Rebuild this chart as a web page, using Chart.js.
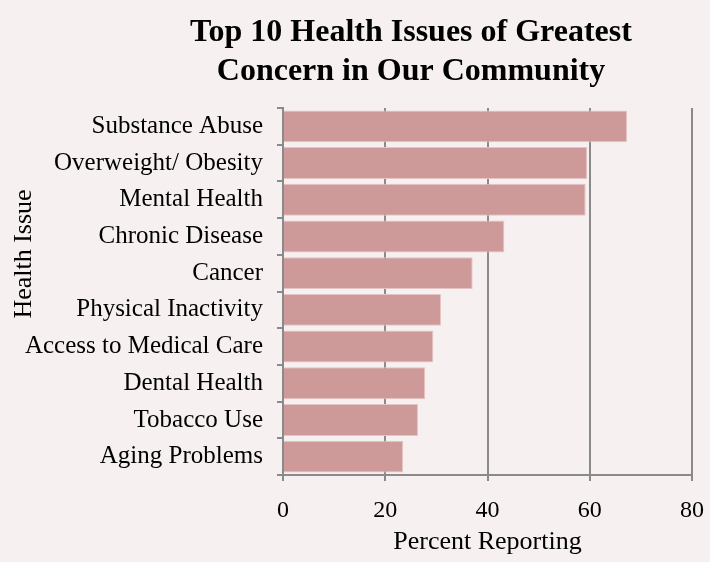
<!DOCTYPE html>
<html>
<head>
<meta charset="utf-8">
<script src="https://cdn.jsdelivr.net/npm/chart.js@4/dist/chart.umd.min.js"></script>
<style>
  html, body { margin: 0; padding: 0; background: #f6f0f0; }
  #wrap { width: 710px; height: 562px; position: relative; }
</style>
</head>
<body>
<div id="wrap"><canvas id="c"></canvas></div>
<script>
// top 10 health issues, percent reporting
var issues = ['Substance Abuse', 'Overweight/ Obesity', 'Mental Health', 'Chronic Disease', 'Cancer',
  'Physical Inactivity', 'Access to Medical Care', 'Dental Health', 'Tobacco Use', 'Aging Problems'];
var percents = [67.3, 59.5, 59.2, 43.3, 37.1, 30.9, 29.4, 27.8, 26.4, 23.5];
var titleLines = ['Top 10 Health Issues of Greatest', 'Concern in Our Community'];
var xTicks = [0, 20, 40, 60, 80];

var SERIF = "'Liberation Serif', 'Times New Roman', serif";
var GRID = '#8a8a8a';

// title and y-axis title sit off-centre in the original, so draw them by hand
var extraText = {
  id: 'extraText',
  afterDraw: function (chart) {
    var ctx = chart.ctx;
    ctx.save();
    ctx.fillStyle = '#000';
    ctx.textAlign = 'center';
    ctx.textBaseline = 'alphabetic';
    ctx.font = 'bold 32px ' + SERIF;
    ctx.fillText(titleLines[0], 411, 41);
    ctx.fillText(titleLines[1], 411, 80);

    ctx.font = '26px ' + SERIF;
    ctx.translate(31, 254);
    ctx.rotate(-Math.PI / 2);
    ctx.fillText('Health Issue', 0, 0);
    ctx.restore();
  }
};

new Chart(document.getElementById('c'), {
  type: 'bar',
  data: {
    labels: issues,
    datasets: [{
      data: percents,
      backgroundColor: '#cd9999',
      borderColor: '#e6c4c4',
      borderWidth: 1,
      categoryPercentage: 1,
      barPercentage: 0.87
    }]
  },
  options: {
    indexAxis: 'y',
    responsive: true,
    maintainAspectRatio: false,
    animation: false,
    layout: { padding: { left: 0, right: 18, top: 108, bottom: 0 } },
    plugins: {
      legend: { display: false },
      tooltip: { enabled: false },
      title: { display: false }
    },
    scales: {
      x: {
        min: 0, max: 80,
        afterBuildTicks: function (scale) {
          scale.ticks = xTicks.map(function (v) { return { value: v }; });
        },
        afterFit: function (scale) {
          scale.height = 87;
          scale.paddingLeft = 0;
          scale.paddingRight = 0;
        },
        grid: { color: GRID, lineWidth: 2, tickLength: 6, drawTicks: true },
        border: { color: GRID, width: 2 },
        ticks: { color: '#000', font: { family: SERIF, size: 24 }, padding: 15, maxRotation: 0 },
        title: {
          display: true, text: 'Percent Reporting', color: '#000',
          font: { family: SERIF, size: 26 }, padding: { top: 0, bottom: 4 }
        }
      },
      y: {
        afterFit: function (scale) { scale.width = 283; },
        grid: { drawOnChartArea: false, drawTicks: true, tickLength: 6, color: GRID, lineWidth: 2, offset: true },
        border: { color: GRID, width: 2 },
        ticks: { color: '#000', font: { family: SERIF, size: 25 }, padding: 14 }
      }
    }
  },
  plugins: [extraText]
});
</script>
</body>
</html>
